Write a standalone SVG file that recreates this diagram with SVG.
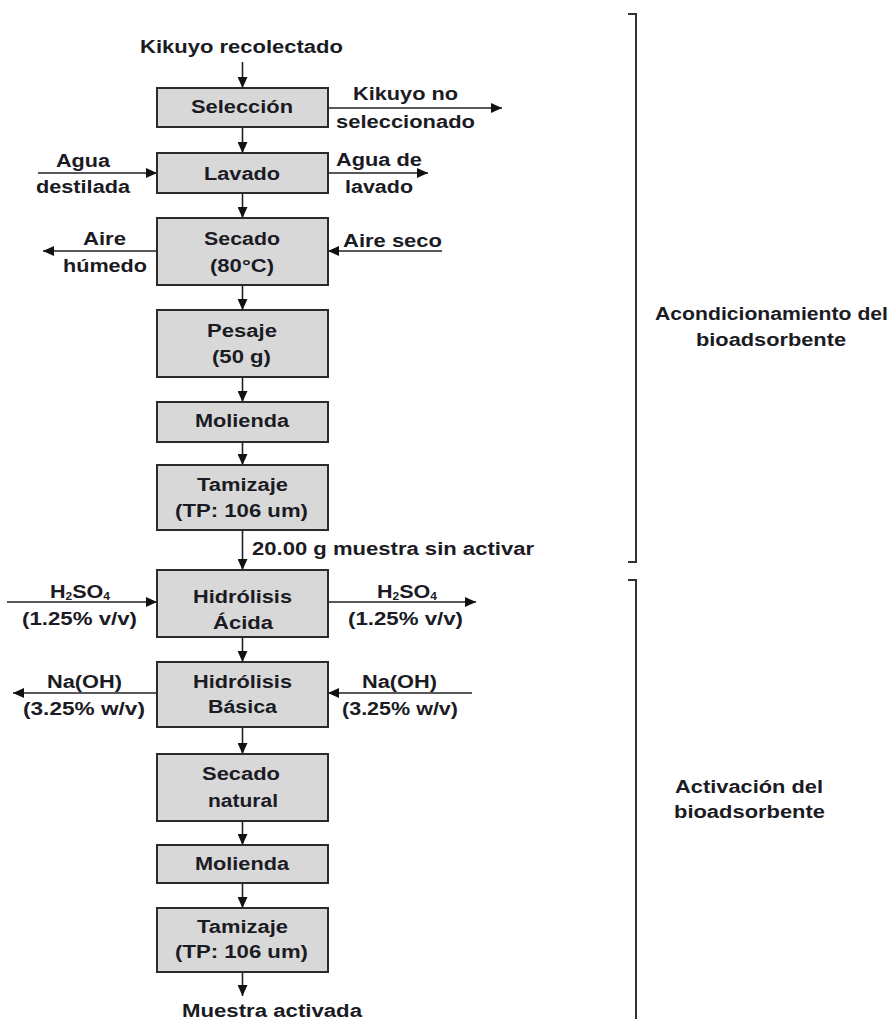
<svg xmlns="http://www.w3.org/2000/svg" width="892" height="1019" viewBox="0 0 892 1019">
<defs>
<style>
.box{fill:#d8d8d8;stroke:#2b2b2b;stroke-width:2}
.t{font-family:"Liberation Sans",Arial,sans-serif;font-weight:bold;font-size:18px;fill:#1b1b24}
.sub{font-size:10px}
.ln{stroke:#222;stroke-width:1.6;fill:none}
.arr{stroke:#222;stroke-width:1.6;fill:none;marker-end:url(#ah)}
.br{stroke:#333;stroke-width:2;fill:none}
</style>
<marker id="ah" markerUnits="userSpaceOnUse" markerWidth="11" markerHeight="10" refX="11" refY="5" orient="auto">
<path d="M0,0 L11,5 L0,10 z" fill="#111"/>
</marker>
</defs>
<rect width="892" height="1019" fill="#fff"/>

<g id="connectors">
<line class="arr" x1="242.5" y1="62" x2="242.5" y2="88"/>
<line class="arr" x1="242.5" y1="127" x2="242.5" y2="153"/>
<line class="arr" x1="242.5" y1="193" x2="242.5" y2="218"/>
<line class="arr" x1="242.5" y1="285" x2="242.5" y2="310"/>
<line class="arr" x1="242.5" y1="377" x2="242.5" y2="402"/>
<line class="arr" x1="242.5" y1="442" x2="242.5" y2="465"/>
<line class="arr" x1="242.5" y1="530" x2="242.5" y2="570"/>
<line class="arr" x1="242.5" y1="637" x2="242.5" y2="662"/>
<line class="arr" x1="242.5" y1="727" x2="242.5" y2="754"/>
<line class="arr" x1="242.5" y1="821" x2="242.5" y2="845"/>
<line class="arr" x1="242.5" y1="883" x2="242.5" y2="908"/>
<line class="arr" x1="242.5" y1="972" x2="242.5" y2="996"/>
<line class="arr" x1="328" y1="108" x2="502" y2="108"/>
<line class="arr" x1="38" y1="173" x2="157" y2="173"/>
<line class="arr" x1="328" y1="173" x2="428" y2="173"/>
<line class="arr" x1="157" y1="251" x2="43" y2="251"/>
<line class="arr" x1="442" y1="251" x2="328" y2="251"/>
<line class="arr" x1="7" y1="602" x2="157" y2="602"/>
<line class="arr" x1="328" y1="602" x2="476" y2="602"/>
<line class="arr" x1="157" y1="693" x2="13" y2="693"/>
<line class="arr" x1="472" y1="693" x2="328" y2="693"/>
</g>

<g id="n-kikuyo"><text class="t" x="140" y="53" textLength="203" lengthAdjust="spacingAndGlyphs">Kikuyo recolectado</text></g>

<g id="n-seleccion">
<rect class="box" x="157" y="88" width="171" height="39"/>
<text class="t" x="191" y="113" textLength="102" lengthAdjust="spacingAndGlyphs">Selección</text>
</g>
<g id="n-noselec">
<text class="t" x="353" y="100" textLength="105" lengthAdjust="spacingAndGlyphs">Kikuyo no</text>
<text class="t" x="336" y="128" textLength="139" lengthAdjust="spacingAndGlyphs">seleccionado</text>
</g>

<g id="n-lavado">
<rect class="box" x="157" y="153" width="171" height="40"/>
<text class="t" x="204" y="180" textLength="76" lengthAdjust="spacingAndGlyphs">Lavado</text>
</g>
<g id="n-aguadest">
<text class="t" x="56" y="167" textLength="54" lengthAdjust="spacingAndGlyphs">Agua</text>
<text class="t" x="36" y="193" textLength="94" lengthAdjust="spacingAndGlyphs">destilada</text>
</g>
<g id="n-agualav">
<text class="t" x="336" y="166" textLength="86" lengthAdjust="spacingAndGlyphs">Agua de</text>
<text class="t" x="345" y="193" textLength="68" lengthAdjust="spacingAndGlyphs">lavado</text>
</g>

<g id="n-secado">
<rect class="box" x="157" y="218" width="171" height="67"/>
<text class="t" x="204" y="245" textLength="76" lengthAdjust="spacingAndGlyphs">Secado</text>
<text class="t" x="210" y="272" textLength="64" lengthAdjust="spacingAndGlyphs">(80°C)</text>
</g>
<g id="n-airehum">
<text class="t" x="83" y="245" textLength="43" lengthAdjust="spacingAndGlyphs">Aire</text>
<text class="t" x="63" y="272" textLength="84" lengthAdjust="spacingAndGlyphs">húmedo</text>
</g>
<g id="n-aireseco"><text class="t" x="343" y="247" textLength="99" lengthAdjust="spacingAndGlyphs">Aire seco</text></g>

<g id="n-pesaje">
<rect class="box" x="157" y="310" width="171" height="67"/>
<text class="t" x="207" y="337" textLength="70" lengthAdjust="spacingAndGlyphs">Pesaje</text>
<text class="t" x="212" y="363" textLength="59" lengthAdjust="spacingAndGlyphs">(50 g)</text>
</g>

<g id="n-molienda1">
<rect class="box" x="157" y="402" width="171" height="40"/>
<text class="t" x="195" y="427" textLength="94" lengthAdjust="spacingAndGlyphs">Molienda</text>
</g>

<g id="n-tamizaje1">
<rect class="box" x="157" y="465" width="171" height="65"/>
<text class="t" x="197" y="491" textLength="91" lengthAdjust="spacingAndGlyphs">Tamizaje</text>
<text class="t" x="175" y="517" textLength="133" lengthAdjust="spacingAndGlyphs">(TP: 106 um)</text>
</g>
<g id="n-sinactivar"><text class="t" x="252" y="555" textLength="282" lengthAdjust="spacingAndGlyphs">20.00 g muestra sin activar</text></g>

<g id="n-acida">
<rect class="box" x="157" y="570" width="171" height="67"/>
<text class="t" x="193" y="603" textLength="99" lengthAdjust="spacingAndGlyphs">Hidrólisis</text>
<text class="t" x="213" y="629" textLength="60" lengthAdjust="spacingAndGlyphs">Ácida</text>
</g>
<g id="n-h2so4-in">
<text class="t" x="50" y="598" textLength="60" lengthAdjust="spacingAndGlyphs">H<tspan class="sub" dy="2">2</tspan><tspan dy="-2">SO</tspan><tspan class="sub" dy="2">4</tspan></text>
<text class="t" x="22" y="625" textLength="115" lengthAdjust="spacingAndGlyphs">(1.25% v/v)</text>
</g>
<g id="n-h2so4-out">
<text class="t" x="377" y="598" textLength="60" lengthAdjust="spacingAndGlyphs">H<tspan class="sub" dy="2">2</tspan><tspan dy="-2">SO</tspan><tspan class="sub" dy="2">4</tspan></text>
<text class="t" x="348" y="625" textLength="115" lengthAdjust="spacingAndGlyphs">(1.25% v/v)</text>
</g>

<g id="n-basica">
<rect class="box" x="157" y="662" width="171" height="65"/>
<text class="t" x="193" y="688" textLength="99" lengthAdjust="spacingAndGlyphs">Hidrólisis</text>
<text class="t" x="208" y="713" textLength="69" lengthAdjust="spacingAndGlyphs">Básica</text>
</g>
<g id="n-naoh-out">
<text class="t" x="47" y="688" textLength="75" lengthAdjust="spacingAndGlyphs">Na(OH)</text>
<text class="t" x="23" y="715" textLength="122" lengthAdjust="spacingAndGlyphs">(3.25% w/v)</text>
</g>
<g id="n-naoh-in">
<text class="t" x="362" y="688" textLength="75" lengthAdjust="spacingAndGlyphs">Na(OH)</text>
<text class="t" x="342" y="715" textLength="116" lengthAdjust="spacingAndGlyphs">(3.25% w/v)</text>
</g>

<g id="n-secadonat">
<rect class="box" x="157" y="754" width="171" height="67"/>
<text class="t" x="202" y="780" textLength="78" lengthAdjust="spacingAndGlyphs">Secado</text>
<text class="t" x="208" y="807" textLength="70" lengthAdjust="spacingAndGlyphs">natural</text>
</g>

<g id="n-molienda2">
<rect class="box" x="157" y="845" width="171" height="38"/>
<text class="t" x="195" y="870" textLength="94" lengthAdjust="spacingAndGlyphs">Molienda</text>
</g>

<g id="n-tamizaje2">
<rect class="box" x="157" y="908" width="171" height="64"/>
<text class="t" x="197" y="933" textLength="91" lengthAdjust="spacingAndGlyphs">Tamizaje</text>
<text class="t" x="175" y="958" textLength="133" lengthAdjust="spacingAndGlyphs">(TP: 106 um)</text>
</g>
<g id="n-activada"><text class="t" x="182" y="1017" textLength="180" lengthAdjust="spacingAndGlyphs">Muestra activada</text></g>

<g id="bracket-acond">
<path class="br" d="M628,14 H636 V562 H628"/>
<text class="t" x="655" y="320" textLength="233" lengthAdjust="spacingAndGlyphs">Acondicionamiento del</text>
<text class="t" x="696" y="346" textLength="150" lengthAdjust="spacingAndGlyphs">bioadsorbente</text>
</g>
<g id="bracket-activ">
<path class="br" d="M628,580 H636 V1019"/>
<text class="t" x="675" y="793" textLength="148" lengthAdjust="spacingAndGlyphs">Activación del</text>
<text class="t" x="674" y="818" textLength="151" lengthAdjust="spacingAndGlyphs">bioadsorbente</text>
</g>
</svg>
